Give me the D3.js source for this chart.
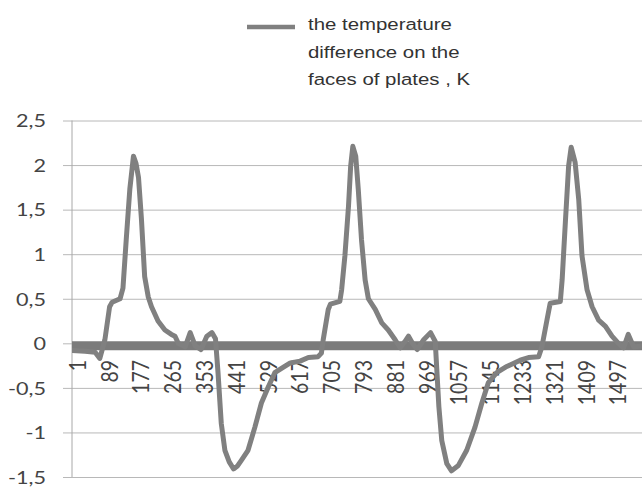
<!DOCTYPE html>
<html><head><meta charset="utf-8">
<script src="https://cdn.jsdelivr.net/npm/d3@7"></script>
<style>html,body{margin:0;padding:0;background:#fff;}svg{display:block;}</style>
</head><body>
<svg id="chart" width="642" height="488"></svg>
<script>
const categories = [1,37,65,78,92,105,112,134,142,151,161,171,178,185,193,202,212,221,239,258,276,286,295,314,328,342,358,374,388,398,405,414,424,436,448,458,470,488,507,525,544,562,585,605,632,655,682,691,696,710,716,742,747,756,766,772,778,786,793,802,812,821,840,858,876,895,909,922,932,943,956,974,993,1006,1016,1024,1038,1051,1070,1093,1116,1135,1153,1176,1204,1241,1264,1292,1301,1315,1324,1352,1357,1366,1375,1382,1393,1403,1412,1426,1440,1458,1477,1495,1513,1527,1540,1555,1577];
const tempDiff = [-0.08,-0.09,-0.10,-0.17,0.04,0.41,0.46,0.50,0.62,1.16,1.73,2.10,2.02,1.86,1.40,0.75,0.52,0.41,0.25,0.15,0.10,0.08,0.00,-0.04,0.12,-0.03,-0.07,0.08,0.12,0.05,-0.33,-0.90,-1.20,-1.33,-1.41,-1.38,-1.31,-1.20,-0.94,-0.67,-0.49,-0.33,-0.27,-0.22,-0.20,-0.16,-0.15,-0.11,0.04,0.38,0.44,0.47,0.60,0.98,1.54,1.99,2.21,2.10,1.73,1.16,0.71,0.50,0.38,0.23,0.15,0.04,-0.05,0.02,0.08,0.00,-0.07,0.04,0.12,0.02,-0.71,-1.09,-1.35,-1.43,-1.37,-1.20,-0.94,-0.67,-0.44,-0.33,-0.26,-0.19,-0.16,-0.15,-0.04,0.26,0.45,0.47,0.71,1.36,1.99,2.20,2.03,1.61,0.98,0.60,0.41,0.26,0.19,0.08,0.00,-0.05,0.10,-0.04,-0.03];
const xTickLabels = [1,89,177,265,353,441,529,617,705,793,881,969,1057,1145,1233,1321,1409,1497];
const yTickValues = [-1.5,-1,-0.5,0,0.5,1,1.5,2,2.5];
const legendLines = ["the temperature","difference on the","faces of plates , K"];

const SX = 1.2; // horizontal stretch of the original picture's text
const svg = d3.select('#chart');
const pLeft = 72, pRight = 642, pTop = 120.5, pBottom = 477;
const x = d3.scaleLinear().domain([1,1578]).range([pLeft,pRight]);
const y = d3.scaleLinear().domain([-1.5,2.5]).range([pBottom,pTop]);

// gridlines + y labels
const gy = svg.append('g').attr('transform',`translate(${pRight},0)`)
  .call(d3.axisLeft(y).tickValues(yTickValues).tickSize(pRight-63).tickPadding(0)
    .tickFormat(d=>String(d).replace('.',',')));
gy.select('.domain').remove();
gy.selectAll('line').attr('stroke','#b8b8b8').attr('stroke-width',1);
gy.selectAll('text')
  .attr('x',0).attr('dy','0.35em')
  .attr('transform',`translate(${46-pRight},0) scale(${SX},1)`)
  .attr('text-anchor','end')
  .attr('fill','#444').style('font-family','Lato, sans-serif').style('font-size','18px');

// vertical axis line
svg.append('line').attr('x1',pLeft).attr('x2',pLeft).attr('y1',pTop).attr('y2',pBottom)
  .attr('stroke','#a8a8a8').attr('stroke-width',1);

// thick horizontal axis at zero
svg.append('line').attr('x1',pLeft).attr('x2',pRight).attr('y1',y(0)+2.5).attr('y2',y(0)+2.5)
  .attr('stroke','#7b7b7b').attr('stroke-width',9);

// x labels
const gx = svg.append('g').call(d3.axisBottom(x).tickValues(xTickLabels).tickSize(0).tickFormat(d=>String(d)));
gx.select('.domain').remove();
gx.selectAll('text')
  .attr('x',0).attr('y',0).attr('dy','0.35em')
  .attr('transform',`translate(5,360) scale(${SX},1) rotate(-90)`)
  .attr('text-anchor','end')
  .attr('fill','#444').style('font-family','Lato, sans-serif').style('font-size','19.5px');

// data line
const data = categories.map((c,i)=>({c,v:tempDiff[i]}));
svg.append('clipPath').attr('id','clip').append('rect').attr('x',pLeft).attr('y',0).attr('width',pRight-pLeft).attr('height',488);
svg.append('path').datum(data).attr('clip-path','url(#clip)')
  .attr('d',d3.line().x(d=>x(d.c)).y(d=>y(d.v)))
  .attr('fill','none').attr('stroke','#808080').attr('stroke-width',5)
  .attr('stroke-linejoin','round').attr('stroke-linecap','round');

// legend
svg.append('line').attr('x1',247).attr('x2',295).attr('y1',27).attr('y2',27)
  .attr('stroke','#808080').attr('stroke-width',4.5);
const lg = svg.append('g');
legendLines.forEach((t,i)=>{
  lg.append('text').attr('transform',`translate(308,${30+i*27.5}) scale(${SX},1)`)
    .text(t).attr('fill','#333').style('font-family','"Liberation Sans", Arial, sans-serif').style('font-size','17px');
});
</script>
</body></html>
